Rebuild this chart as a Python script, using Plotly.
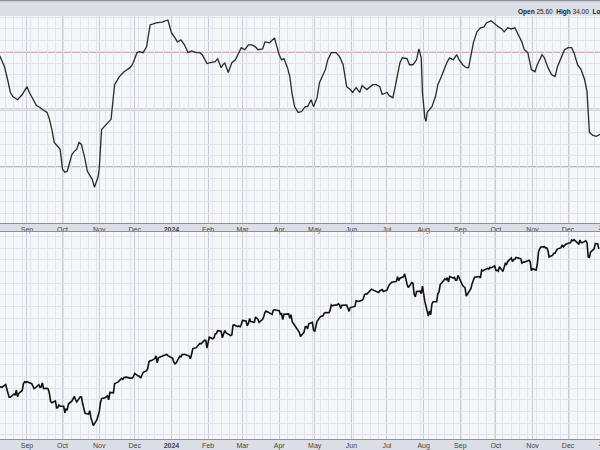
import numpy as np
import pandas as pd
import plotly.graph_objects as go

# ---------------- Data ----------------
# Indicator (upper panel)
ind_dates = ["2023-08-09","2023-08-13","2023-08-16","2023-08-18","2023-08-20","2023-08-24","2023-08-28",
    "2023-09-01","2023-09-03","2023-09-06","2023-09-09","2023-09-12","2023-09-14","2023-09-18","2023-09-20",
    "2023-09-22","2023-09-24","2023-09-27","2023-09-29","2023-10-01","2023-10-03","2023-10-05","2023-10-09",
    "2023-10-11","2023-10-13","2023-10-15","2023-10-17","2023-10-20","2023-10-22","2023-10-26","2023-10-28",
    "2023-10-31","2023-11-01","2023-11-03","2023-11-07","2023-11-11","2023-11-14","2023-11-18","2023-11-22",
    "2023-11-27","2023-11-29","2023-12-03","2023-12-05","2023-12-08","2023-12-11","2023-12-12","2023-12-14",
    "2023-12-19","2023-12-24","2023-12-29","2024-01-01","2024-01-04","2024-01-06","2024-01-09","2024-01-12",
    "2024-01-15","2024-01-18","2024-01-22","2024-01-25","2024-01-27","2024-01-31","2024-02-03","2024-02-07",
    "2024-02-09","2024-02-12","2024-02-13","2024-02-15","2024-02-18","2024-02-21","2024-02-24","2024-02-26",
    "2024-02-29","2024-03-03","2024-03-06","2024-03-09","2024-03-12","2024-03-14","2024-03-18","2024-03-20",
    "2024-03-24","2024-03-28","2024-03-30","2024-04-01","2024-04-03","2024-04-05","2024-04-08","2024-04-10",
    "2024-04-12","2024-04-14","2024-04-17","2024-04-20","2024-04-23","2024-04-25","2024-04-28","2024-04-30",
    "2024-05-03","2024-05-05","2024-05-10","2024-05-12","2024-05-15","2024-05-19","2024-05-22","2024-05-25",
    "2024-05-28","2024-05-31","2024-06-02","2024-06-05","2024-06-08","2024-06-10","2024-06-14","2024-06-16",
    "2024-06-19","2024-06-22","2024-06-25","2024-06-27","2024-07-01","2024-07-03","2024-07-06","2024-07-08",
    "2024-07-10","2024-07-12","2024-07-14","2024-07-18","2024-07-20","2024-07-23","2024-07-26","2024-07-28",
    "2024-07-30","2024-07-31","2024-08-02","2024-08-03","2024-08-04","2024-08-08","2024-08-11","2024-08-13",
    "2024-08-16","2024-08-19","2024-08-21","2024-08-23","2024-08-26","2024-08-29","2024-08-31","2024-09-03",
    "2024-09-06","2024-09-08","2024-09-10","2024-09-12","2024-09-15","2024-09-18","2024-09-21","2024-09-23",
    "2024-09-27","2024-09-29","2024-10-02","2024-10-06","2024-10-08","2024-10-11","2024-10-14","2024-10-17",
    "2024-10-19","2024-10-23","2024-10-25","2024-10-28","2024-10-31","2024-11-03","2024-11-05","2024-11-09",
    "2024-11-11","2024-11-14","2024-11-17","2024-11-20","2024-11-22","2024-11-26","2024-11-28","2024-12-01",
    "2024-12-04","2024-12-06","2024-12-09","2024-12-12","2024-12-15","2024-12-17","2024-12-18","2024-12-19",
    "2024-12-22","2024-12-25","2024-12-28"]
ind_values = [68.6,64.8,59.7,55.9,54.5,53.4,55.2,
    57.9,55.9,53.4,51.4,50.7,50.0,49.0,46.6,
    43.1,38.6,37.2,36.2,29.3,28.3,28.6,34.5,
    35.5,36.2,38.6,37.9,32.8,28.6,25.9,23.1,
    26.6,29.3,43.1,44.8,46.6,58.6,61.4,63.1,
    64.5,65.5,69.7,70.0,69.7,71.7,74.8,79.3,
    80.0,80.3,81.0,76.6,74.8,73.4,74.1,72.4,
    69.7,70.3,69.7,69.7,69.0,65.9,66.2,66.6,
    67.6,64.5,65.2,66.2,62.8,66.2,67.2,69.0,
    71.4,70.7,72.4,72.4,71.7,70.7,71.0,73.4,
    73.1,74.8,71.7,69.0,67.2,67.6,64.5,61.4,
    55.2,51.0,49.0,49.3,51.0,51.0,53.4,51.0,
    54.1,59.3,63.8,67.2,69.7,69.7,68.3,65.5,
    57.9,56.9,55.9,57.6,55.9,58.3,56.9,57.6,
    58.6,58.6,57.9,55.2,55.9,54.8,54.1,57.9,
    62.8,66.2,67.9,67.6,65.5,65.5,67.2,71.0,
    67.9,55.9,47.2,45.9,49.0,51.0,54.5,58.6,
    61.4,64.5,66.6,67.9,67.2,69.0,67.2,65.5,
    64.5,64.5,68.3,73.1,76.9,78.3,78.6,80.0,
    80.7,80.0,79.0,77.9,76.9,78.3,77.9,78.3,
    76.6,73.4,70.7,69.7,63.8,63.1,65.5,69.0,
    67.9,64.5,62.1,61.4,64.8,69.0,70.7,71.4,
    71.4,69.7,65.5,63.8,60.3,56.2,49.3,42.1,
    41.0,40.7,41.4]
ref_levels = [70, 50, 30]
ref_colors = ["#d05656", "#7272a2", "#5c8e5c"]

# Price (lower panel), daily closes by month
close_2023_08 = [4467,4468,4464,4489,4437,4404,4370,4370,4400,4388,4436,4376,4406,4433,4497,4514,4508]
close_2023_09 = [4516,4497,4465,4451,4457,4487,4462,4467,4505,4450,4454,4444,4402,4330,4320,4337,4274,4275,4300,4288]
close_2023_10 = [4288,4229,4263,4258,4308,4336,4358,4377,4349,4328,4374,4373,4315,4278,4224,4217,4248,4186,4137,4117,4167,4194]
close_2023_11 = [4237,4318,4358,4366,4378,4383,4347,4415,4411,4496,4502,4508,4514,4547,4538,4556,4559,4550,4554,4551,4568]
close_2023_12 = [4595,4569,4567,4549,4585,4604,4622,4644,4707,4720,4719,4741,4768,4699,4747,4755,4775,4782,4783,4770]
close_2024_01 = [4743,4705,4689,4697,4764,4757,4783,4780,4784,4766,4739,4781,4840,4851,4865,4869,4894,4891,4928,4925,4846]
close_2024_02 = [4906,4959,4943,4954,4995,4998,5027,5022,4953,5001,5030,5006,4976,4982,5087,5089,5070,5078,5069,5096]
close_2024_03 = [5137,5131,5079,5105,5157,5124,5117,5175,5165,5150,5117,5149,5179,5225,5241,5234,5218,5203,5248,5254]
close_2024_04 = [5243,5205,5211,5147,5204,5202,5209,5161,5199,5123,5061,5051,5022,5011,4967,5011,5070,5072,5048,5100,5116,5036]
close_2024_05 = [5018,5064,5128,5181,5187,5188,5214,5223,5221,5247,5308,5297,5304,5308,5321,5307,5268,5305,5306,5267,5236,5278]
close_2024_06 = [5283,5291,5354,5353,5347,5361,5375,5421,5434,5431,5473,5487,5473,5465,5448,5469,5478,5483,5460]
close_2024_07 = [5475,5509,5537,5567,5572,5577,5633,5585,5615,5631,5667,5589,5545,5505,5564,5555,5427,5399,5459,5464,5436,5522]
close_2024_08 = [5446,5347,5186,5240,5199,5319,5344,5344,5434,5455,5543,5554,5608,5597,5621,5571,5635,5616,5625,5592,5592,5648]
close_2024_09 = [5529,5520,5503,5408,5471,5496,5554,5596,5626,5633,5634,5618,5713,5703,5719,5732,5722,5745,5738,5762]
close_2024_10 = [5709,5710,5699,5751,5696,5751,5792,5780,5815,5859,5815,5842,5841,5865,5853,5851,5797,5809,5808,5823,5832,5813,5705]
close_2024_11 = [5729,5712,5782,5929,5973,5996,6001,5984,5985,5949,5871,5893,5917,5917,5949,5970,5987,6021,5998,6032]
close_2024_12 = [6047,6050,6086,6075,6090,6053,6034,6084,6051,6051,6074,6051,5872,5867,5931,5974,6040,6037,5971]

holidays = ["2023-09-04","2023-11-23","2023-12-25","2024-01-01","2024-01-15","2024-02-19","2024-03-29",
            "2024-05-27","2024-06-19","2024-07-04","2024-09-02","2024-11-28","2024-12-25"]

month_ticks = ["2023-09-01","2023-10-01","2023-11-01","2023-12-01","2024-01-01","2024-02-01","2024-03-01",
               "2024-04-01","2024-05-01","2024-06-01","2024-07-01","2024-08-01","2024-09-01","2024-10-01",
               "2024-11-01","2024-12-01","2025-01-01"]
month_labels = ["Sep","Oct","Nov","Dec","<b>2024</b>","Feb","Mar","Apr","May","Jun","Jul","Aug",
                "Sep","Oct","Nov","Dec","<b>2025</b>"]

# ---------------- Build ----------------
closes = (close_2023_08 + close_2023_09 + close_2023_10 + close_2023_11 + close_2023_12 +
          close_2024_01 + close_2024_02 + close_2024_03 + close_2024_04 + close_2024_05 +
          close_2024_06 + close_2024_07 + close_2024_08 + close_2024_09 + close_2024_10 +
          close_2024_11 + close_2024_12)
bd = pd.bdate_range("2023-08-09", "2024-12-27")
bd = bd[~bd.isin(pd.to_datetime(holidays))]
n = min(len(bd), len(closes))
price_dates = bd[:n]
closes = closes[:n]

PLOT_BG = "#f5f6fa"
BAND = "#dcdee5"
MINOR = "#e2e4eb"
MAJOR = "#c8cbd4"
AXLINE = "#8d909a"
FONT = "Liberation Sans, Arial, sans-serif"

fig = go.Figure()
fig.add_trace(go.Scatter(x=ind_dates, y=ind_values, mode="lines",
                         line=dict(color="#2a2a2a", width=1.3), xaxis="x", yaxis="y",
                         showlegend=False, hoverinfo="skip"))
fig.add_trace(go.Scatter(x=price_dates, y=closes, mode="lines",
                         line=dict(color="#111111", width=1.6), xaxis="x2", yaxis="y2",
                         showlegend=False, hoverinfo="skip"))

for lvl, col in zip(ref_levels, ref_colors):
    fig.add_shape(type="line", xref="x domain", yref="y", x0=0, x1=1, y0=lvl, y1=lvl,
                  line=dict(color=col, width=1.5), layer="below")

xr = ["2023-08-09 05:00", "2024-12-27 23:00"]
xcommon = dict(type="date", range=xr, tickmode="array", tickvals=month_ticks, ticktext=month_labels,
               showgrid=True, gridcolor=MAJOR, gridwidth=1, zeroline=False,
               ticks="", tickfont=dict(family=FONT, size=7, color="#444"),
               showline=True, linecolor=AXLINE, linewidth=1,
               minor=dict(dtick=7 * 86400000, tick0="2023-08-07", showgrid=True, gridcolor=MINOR, gridwidth=1))

top_lo, top_hi = 10.69, 82.41
price_lo, price_hi = 4002, 6189
lo_l, hi_l = np.log10(price_lo), np.log10(price_hi)
grid_vals = list(10 ** np.arange(lo_l + 0.004, hi_l, 0.01065))

fig.update_layout(
    width=600, height=450, margin=dict(l=0, r=0, t=0, b=0),
    paper_bgcolor=BAND, plot_bgcolor=PLOT_BG,
    xaxis=dict(xcommon, domain=[0, 1], anchor="y", mirror=False),
    xaxis2=dict(xcommon, domain=[0, 1], anchor="y2", mirror=True),
    yaxis=dict(domain=[0.50222, 0.96444], range=[top_lo, top_hi], tick0=70, dtick=4,
               showgrid=True, gridcolor=MINOR, showticklabels=False, zeroline=False, ticks=""),
    yaxis2=dict(domain=[0.02, 0.48222], type="log", range=[lo_l, hi_l], tickmode="array",
                tickvals=grid_vals, showgrid=True, gridcolor=MINOR, showticklabels=False,
                zeroline=False, ticks=""),
    showlegend=False,
)

fig.add_shape(type="line", xref="paper", yref="paper", x0=0, x1=1, y0=0.999, y1=0.999,
              line=dict(color=AXLINE, width=1.5))
fig.add_annotation(xref="paper", yref="paper", x=516 / 600, y=(450 - 12.5) / 450, xanchor="left",
                   yanchor="middle", showarrow=False,
                   text="<b>Open</b> 25.60&nbsp;&nbsp;<b>High</b> 34.00&nbsp;&nbsp;<b>Low</b>",
                   font=dict(family=FONT, size=6.5, color="#222"))
# partially visible year labels at the right edge of both date bands
for ypx in (229, 445.5):
    fig.add_annotation(xref="paper", yref="paper", x=597 / 600, y=(450 - ypx) / 450, xanchor="left",
                       yanchor="middle", showarrow=False, text="<b>2025</b>",
                       font=dict(family=FONT, size=7, color="#444"))

fig.write_html("out.html", config={"displayModeBar": False},
               post_script="document.body.style.margin='0';document.body.style.overflow='hidden';")
